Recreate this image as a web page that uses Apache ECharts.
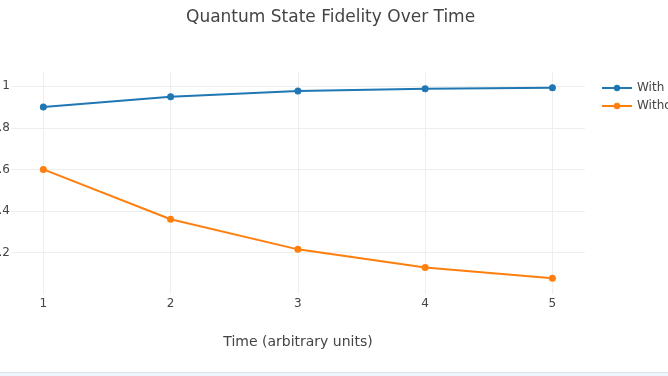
<!DOCTYPE html>
<html>
<head>
<meta charset="utf-8">
<title>Quantum State Fidelity Over Time</title>
<script src="https://cdn.jsdelivr.net/npm/echarts@6/dist/echarts.min.js"></script>
<style>
  html, body { margin: 0; padding: 0; background: #fff; }
  #chart { width: 668px; height: 376px; }
</style>
</head>
<body>
<div id="chart"></div>
<script>
// data
const timeSteps = [1, 2, 3, 4, 5];
const withCorrection = [0.9, 0.95, 0.978, 0.988, 0.993];
const withoutCorrection = [0.6, 0.36, 0.215, 0.128, 0.076];
const yTicks = [0.2, 0.4, 0.6, 0.8, 1];
const seriesNames = ["With Error Correction", "Without Error Correction"];

const font = "DejaVu Sans, Verdana, sans-serif";

const chart = echarts.init(document.getElementById("chart"), null, { renderer: "canvas" });

chart.setOption({
    animation: false,
    backgroundColor: "#fff",
    textStyle: { fontFamily: font },
    title: {
        text: "Quantum State Fidelity Over Time",
        left: 181,
        top: 4,
        textStyle: { fontFamily: font, fontSize: 17, fontWeight: "normal", color: "#444" },
    },
    legend: {
        orient: "vertical",
        left: 596,
        top: 77,
        itemWidth: 30,
        itemHeight: 8,
        itemGap: 6,
        textStyle: { fontFamily: font, fontSize: 12, color: "#444" },
        data: seriesNames,
    },
    // labels on the left are allowed to run off the canvas, like the cropped original
    grid: { left: 11, right: 83, top: 72, bottom: 82, containLabel: false, outerBoundsMode: "none" },
    xAxis: {
        type: "value",
        min: 0.746,
        max: 5.256,
        name: "Time (arbitrary units)",
        nameLocation: "middle",
        nameGap: 41,
        nameTextStyle: { fontFamily: font, fontSize: 14, color: "#444" },
        axisLine: { show: false },
        axisTick: { show: false, customValues: timeSteps },
        axisLabel: { customValues: timeSteps, margin: 4, fontSize: 12, color: "#444", fontFamily: font },
        splitLine: { show: true, lineStyle: { color: "#eee", width: 1 } },
    },
    yAxis: {
        type: "value",
        min: 0,
        max: 1.069,
        axisLine: { show: false },
        axisTick: { show: false, customValues: yTicks },
        axisLabel: { customValues: yTicks, margin: 1, fontSize: 12, color: "#444", fontFamily: font },
        splitLine: { show: true, lineStyle: { color: "#eee", width: 1 } },
    },
    series: [
        {
            name: seriesNames[0],
            type: "line",
            data: timeSteps.map((t, i) => [t, withCorrection[i]]),
            symbol: "circle",
            symbolSize: 7,
            color: "#1f77b4",
            lineStyle: { width: 2, color: "#1f77b4" },
        },
        {
            name: seriesNames[1],
            type: "line",
            data: timeSteps.map((t, i) => [t, withoutCorrection[i]]),
            symbol: "circle",
            symbolSize: 7,
            color: "#ff7f0e",
            lineStyle: { width: 2, color: "#ff7f0e" },
        },
    ],
    // page strip at the very bottom of the screenshot
    graphic: [
        { type: "rect", left: 0, top: 373, shape: { width: 668, height: 3 }, style: { fill: "#eef5fb" }, silent: true },
        { type: "rect", left: 0, top: 372, shape: { width: 668, height: 1 }, style: { fill: "#dde3e8" }, silent: true },
    ],
});
</script>
</body>
</html>
